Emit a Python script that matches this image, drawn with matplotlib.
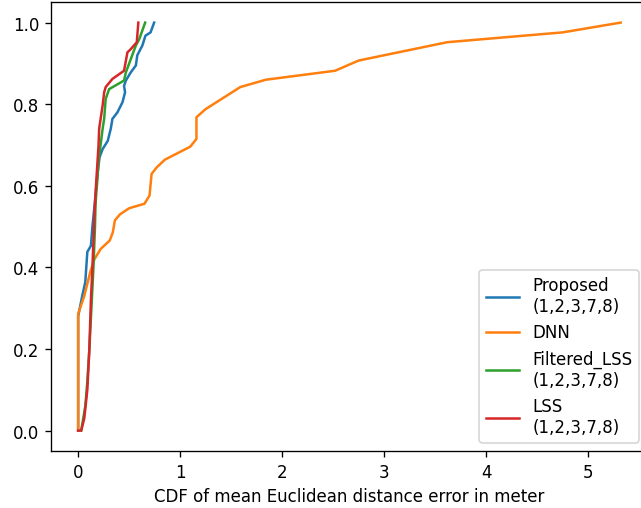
import matplotlib

matplotlib.use("Agg")
import matplotlib.pyplot as plt

# CDF curves (x = error in m, y = cumulative fraction)
proposed_x = [0.0, 0.0, 0.04, 0.07, 0.09, 0.125, 0.14, 0.16, 0.175, 0.19, 0.21, 0.24,
              0.29, 0.32, 0.336, 0.385, 0.435, 0.46, 0.45, 0.468, 0.516, 0.566, 0.58,
              0.63, 0.66, 0.71, 0.745]
proposed_y = [0.0, 0.28, 0.33, 0.364, 0.438, 0.453, 0.50, 0.55, 0.59, 0.63, 0.67, 0.69,
              0.71, 0.74, 0.764, 0.78, 0.805, 0.829, 0.845, 0.858, 0.878, 0.895, 0.92,
              0.944, 0.968, 0.976, 1.0]

dnn_x = [0.0, 0.0, 0.06, 0.12, 0.16, 0.22, 0.31, 0.34, 0.36, 0.41, 0.50, 0.65, 0.70,
         0.72, 0.77, 0.85, 1.10, 1.16, 1.16, 1.25, 1.59, 1.84, 2.52, 2.75, 3.62, 4.75,
         5.32]
dnn_y = [0.0, 0.286, 0.33, 0.39, 0.42, 0.445, 0.466, 0.486, 0.515, 0.53, 0.545, 0.556,
         0.576, 0.629, 0.645, 0.664, 0.696, 0.715, 0.768, 0.788, 0.842, 0.86, 0.882,
         0.907, 0.952, 0.976, 1.0]

filtered_x = [0.03, 0.05, 0.07, 0.09, 0.11, 0.13, 0.15, 0.165, 0.17, 0.175, 0.19, 0.20,
              0.215, 0.24, 0.255, 0.27, 0.304, 0.45, 0.468, 0.53, 0.566, 0.60, 0.657]
filtered_y = [0.0, 0.03, 0.06, 0.12, 0.20, 0.30, 0.40, 0.50, 0.55, 0.573, 0.62, 0.662,
              0.69, 0.74, 0.764, 0.813, 0.837, 0.858, 0.878, 0.92, 0.944, 0.96, 1.0]

lss_x = [0.0, 0.03, 0.06, 0.09, 0.11, 0.125, 0.14, 0.16, 0.175, 0.20, 0.206, 0.24, 0.255,
         0.27, 0.336, 0.45, 0.483, 0.516, 0.575, 0.59]
lss_y = [0.0, 0.0, 0.03, 0.10, 0.20, 0.32, 0.40, 0.53, 0.60, 0.70, 0.74, 0.797, 0.829,
         0.842, 0.862, 0.882, 0.927, 0.935, 0.952, 1.0]

labels = ["Proposed\n(1,2,3,7,8)", "DNN", "Filtered_LSS\n(1,2,3,7,8)", "LSS\n(1,2,3,7,8)"]


def main() -> None:
    dpi = 120
    fig = plt.figure(figsize=(641 / dpi, 509 / dpi), dpi=dpi)
    # right spine sits past the image edge in the reference, so the axes overflows
    ax = fig.add_axes([0.0796, 0.112, 0.931, 0.8817])

    ax.plot(proposed_x, proposed_y, label=labels[0])
    ax.plot(dnn_x, dnn_y, label=labels[1])
    ax.plot(filtered_x, filtered_y, label=labels[2])
    ax.plot(lss_x, lss_y, label=labels[3])

    ax.set_xlabel("CDF of mean Euclidean distance error in meter")
    ax.legend(loc="lower right")

    fig.savefig("out.png", dpi=dpi)
    plt.close(fig)


if __name__ == "__main__":
    main()
